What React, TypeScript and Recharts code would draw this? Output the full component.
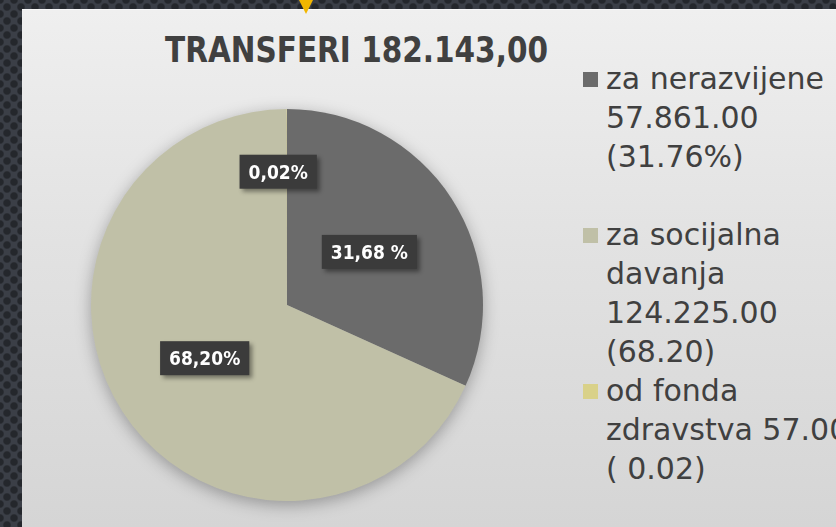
import React from 'react';
import { PieChart, Pie, Cell, Legend } from 'recharts';

const categories = ['za nerazvijene', 'za socijalna davanja', 'od fonda zdravstva'];
const amounts = [57861, 124225, 57];
const sliceLabels = ['31,68 %', '68,20%', '0,02%'];
// legend text, broken into lines as on the slide
const legendLines = [
  ['za nerazvijene', '57.861.00', '(31.76%)', ''],
  ['za socijalna', 'davanja', '124.225.00', '(68.20)'],
  ['od fonda', 'zdravstva 57.00', '( 0.02)'],
];
const title = 'TRANSFERI 182.143,00';

const COLORS = ['#6b6b6b', '#c0c0a7', '#d9d189'];

const data = categories.map((name, i) => ({ name, value: amounts[i] }));

const RADIAN = Math.PI / 180;
const LABEL_FONT = 19;

// rough width of a label in DejaVu Sans Condensed Bold
function labelWidth(text: string) {
  let w = 0;
  for (const ch of text) {
    if (ch >= '0' && ch <= '9') w += 0.626;
    else if (ch === ',' || ch === '.') w += 0.342;
    else if (ch === '%') w += 0.902;
    else if (ch === ' ') w += 0.313;
    else w += 0.6;
  }
  return w * LABEL_FONT;
}

function renderLabel(props: any) {
  const { cx, cy, midAngle, outerRadius, percent, index } = props;
  const text = sliceLabels[index];
  const w = labelWidth(text) + 18;
  const h = 34;
  const tiny = percent < 0.01;
  const r = outerRadius * (tiny ? 0.68 : 0.5);
  let x = cx + r * Math.cos(-midAngle * RADIAN);
  const y = cy + r * Math.sin(-midAngle * RADIAN);
  if (tiny) x = x + 30 - w / 2;
  return (
    <g key={`lbl-${index}`}>
      <rect
        x={x - w / 2}
        y={y - h / 2}
        width={w}
        height={h}
        fill="#3b3b3b"
        style={{ filter: 'drop-shadow(3px 3px 2px rgba(0,0,0,0.4))' }}
      />
      <text
        x={x}
        y={y}
        textAnchor="middle"
        dominantBaseline="central"
        fill="#ffffff"
        fontFamily="'DejaVu Sans Condensed', 'DejaVu Sans', sans-serif"
        fontWeight="bold"
        fontSize={LABEL_FONT}
      >
        {text}
      </text>
    </g>
  );
}

function renderLegend(props: any) {
  const payload = [...(props.payload || [])].sort(
    (a: any, b: any) => categories.indexOf(a.value) - categories.indexOf(b.value)
  );
  return (
    <div
      style={{
        fontFamily: "'DejaVu Sans', sans-serif",
        fontSize: 30,
        lineHeight: '39px',
        color: '#404040',
        whiteSpace: 'nowrap',
      }}
    >
      {payload.map((entry: any) => {
        const i = categories.indexOf(entry.value);
        return (
          <div key={entry.value} style={{ position: 'relative', paddingLeft: 26 }}>
            <span
              style={{
                position: 'absolute',
                left: 3,
                top: 13,
                width: 15,
                height: 15,
                background: COLORS[i],
              }}
            />
            {legendLines[i].map((line, j) => (
              <div key={j} style={{ height: 39 }}>
                {line}
              </div>
            ))}
          </div>
        );
      })}
    </div>
  );
}

export default function App() {
  return (
    <div
      style={{
        position: 'absolute',
        left: 0,
        top: 0,
        width: 836,
        height: 527,
        overflow: 'hidden',
        background:
          'radial-gradient(circle, #24272c 0 3px, transparent 4.5px) 0 0 / 14px 14px, radial-gradient(circle, #24272c 0 3px, transparent 4.5px) 7px 7px / 14px 14px, #3b3f47',
      }}
    >
      <style>{`.recharts-surface { filter: drop-shadow(0px 4px 8px rgba(0,0,0,0.3)); }`}</style>
      {/* little marker at the top of the slide */}
      <div
        style={{
          position: 'absolute',
          left: 299,
          top: 0,
          width: 0,
          height: 0,
          borderLeft: '7px solid transparent',
          borderRight: '7px solid transparent',
          borderTop: '14px solid #f2b600',
          zIndex: 2,
        }}
      />
      <div
        style={{
          position: 'absolute',
          left: 22,
          top: 9,
          right: 0,
          bottom: 0,
          borderTop: '1px solid #f8f8f8',
          background: 'linear-gradient(180deg, #efefef 0%, #e2e2e2 45%, #d5d5d5 100%)',
        }}
      />
      <svg style={{ position: 'absolute', left: 0, top: 0 }} width={836} height={80}>
        <text
          x={165}
          y={62}
          textLength={383}
          lengthAdjust="spacingAndGlyphs"
          fill="#404040"
          fontFamily="'DejaVu Sans Condensed', 'DejaVu Sans', sans-serif"
          fontWeight="bold"
          fontSize={36}
        >
          {title}
        </text>
      </svg>
      <div style={{ position: 'absolute', left: 0, top: 0 }}>
        <PieChart width={836} height={527} margin={{ top: 0, right: 0, bottom: 0, left: 0 }}>
          <Pie
            data={data}
            dataKey="value"
            nameKey="name"
            cx={287}
            cy={305}
            outerRadius={196}
            startAngle={90}
            endAngle={-270}
            stroke="none"
            label={renderLabel}
            labelLine={false}
            isAnimationActive={false}
          >
            {data.map((d, i) => (
              <Cell key={d.name} fill={COLORS[i]} />
            ))}
          </Pie>
          <Legend
            layout="vertical"
            align="right"
            verticalAlign="middle"
            content={renderLegend}
            wrapperStyle={{ position: 'absolute', left: 580, top: 59, width: 256 }}
          />
        </PieChart>
      </div>
    </div>
  );
}
